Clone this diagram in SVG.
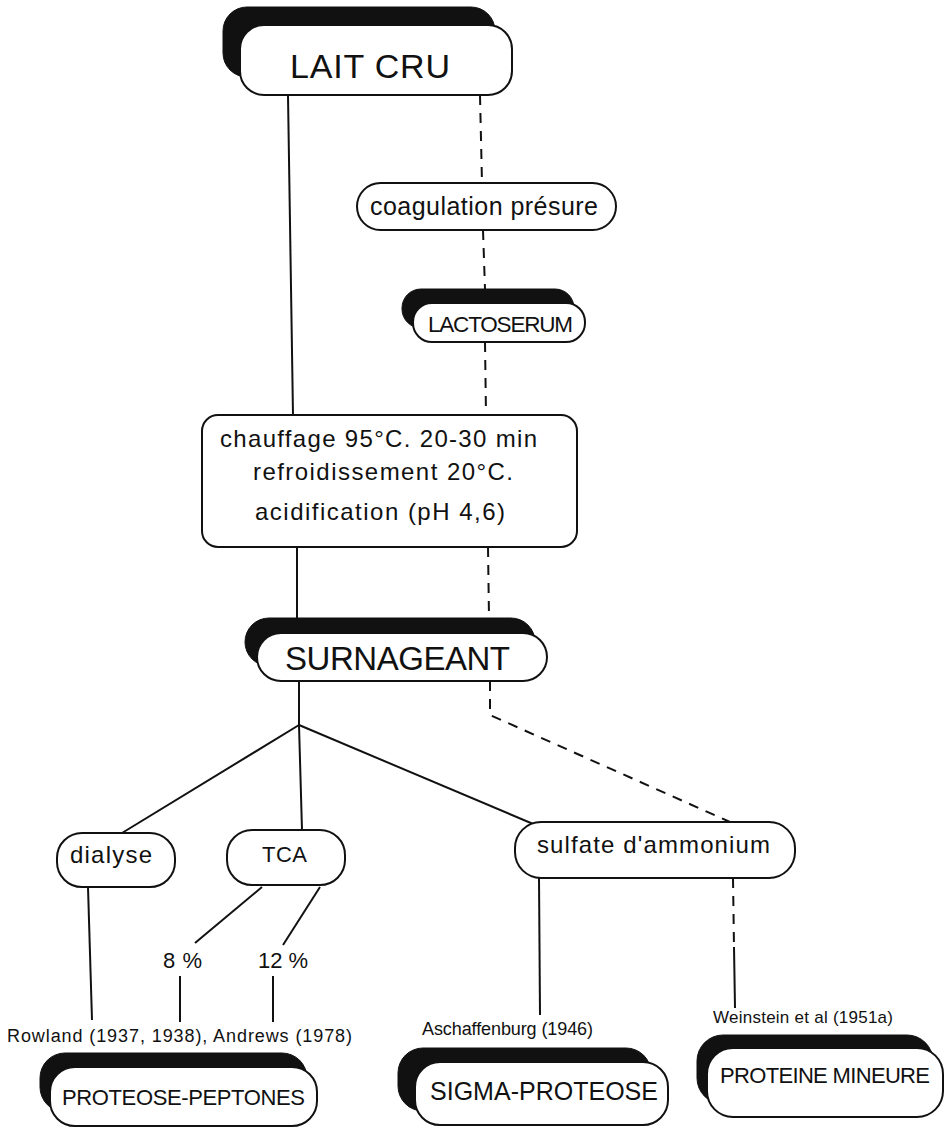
<svg xmlns="http://www.w3.org/2000/svg" width="945" height="1128" viewBox="0 0 945 1128">
<style>
.bg{fill:#fff}
.ln{fill:none;stroke:#111;stroke-width:2}
.ds{fill:none;stroke:#111;stroke-width:2;stroke-dasharray:10 8}
.sh{fill:#111;stroke:#111;stroke-width:1}
.bx{fill:#fff;stroke:#111;stroke-width:2}
text{font-family:"Liberation Sans","Noto Sans",sans-serif;fill:#111}
</style>
<rect class="bg" x="0" y="0" width="945" height="1128"/>
<g id="connectors">
<path class="ln" d="M288,95 L293,415"/>
<path class="ln" d="M297,547 L297,618"/>
<path class="ln" d="M299,681 L299,725"/>
<path class="ln" d="M299,725 L122,833"/>
<path class="ln" d="M299,725 L302,830"/>
<path class="ln" d="M299,725 L538,826"/>
<path class="ln" d="M262,887 L195,943"/>
<path class="ln" d="M320,887 L283,945"/>
<path class="ln" d="M180,976 L180,1022"/>
<path class="ln" d="M273,976 L273,1022"/>
<path class="ln" d="M88,887 L92,1020"/>
<path class="ln" d="M539,878 L540,1015"/>
<path class="ds" d="M480,95 L482,183"/>
<path class="ds" d="M483,230 L485,289"/>
<path class="ds" d="M485,342 L486,415"/>
<path class="ds" d="M488,547 L489,618"/>
<path class="ds" d="M490,681 L490,715 L730,822"/>
<path class="ds" d="M733,878 L734,947"/>
<path class="ln" d="M734,947 L735,1008"/>
</g>
<g id="lait-cru">
<rect class="sh" x="223" y="7" width="272" height="70" rx="24"/>
<rect class="bx" x="240" y="25" width="272" height="70" rx="24"/>
<text x="290" y="78" font-size="34" textLength="160">LAIT CRU</text>
</g>
<g id="coagulation">
<rect class="bx" x="357" y="183" width="259" height="47" rx="23.5"/>
<text x="370" y="215" font-size="25" textLength="228">coagulation présure</text>
</g>
<g id="lactoserum">
<rect class="sh" x="402" y="289" width="172" height="39" rx="19"/>
<rect class="bx" x="413" y="303" width="172" height="39" rx="19"/>
<text x="428" y="332" font-size="22.5" textLength="145">LACTOSERUM</text>
</g>
<g id="chauffage">
<rect class="bx" x="202" y="415" width="375" height="132" rx="16"/>
<text x="220" y="447" font-size="24" textLength="317">chauffage 95°C. 20-30 min</text>
<text x="253" y="480" font-size="24" textLength="260">refroidissement 20°C.</text>
<text x="255" y="520" font-size="24" textLength="250">acidification (pH 4,6)</text>
</g>
<g id="surnageant">
<rect class="sh" x="245" y="618" width="290" height="48" rx="24"/>
<rect class="bx" x="257" y="633" width="290" height="48" rx="24"/>
<text x="285" y="670" font-size="33" textLength="225">SURNAGEANT</text>
</g>
<g id="dialyse">
<rect class="bx" x="57" y="833" width="118" height="54" rx="25"/>
<text x="70" y="863" font-size="24" textLength="82">dialyse</text>
</g>
<g id="tca">
<rect class="bx" x="227" y="830" width="118" height="55" rx="25"/>
<text x="262" y="862" font-size="22" textLength="45">TCA</text>
</g>
<g id="sulfate">
<rect class="bx" x="515" y="822" width="280" height="56" rx="26"/>
<text x="537" y="853" font-size="24" textLength="233">sulfate d'ammonium</text>
</g>
<g id="labels">
<text x="163" y="968" font-size="22" textLength="39">8 %</text>
<text x="258" y="968" font-size="22" textLength="50">12 %</text>
<text x="7" y="1042" font-size="18" textLength="345">Rowland (1937, 1938), Andrews (1978)</text>
<text x="422" y="1035" font-size="18" textLength="171">Aschaffenburg (1946)</text>
<text x="713" y="1023" font-size="17" textLength="180">Weinstein et al (1951a)</text>
</g>
<g id="proteose-peptones">
<rect class="sh" x="40" y="1053" width="267" height="59" rx="25"/>
<rect class="bx" x="50" y="1067" width="267" height="59" rx="25"/>
<text x="62" y="1105" font-size="22" textLength="243">PROTEOSE-PEPTONES</text>
</g>
<g id="sigma-proteose">
<rect class="sh" x="398" y="1048" width="253" height="63" rx="25"/>
<rect class="bx" x="415" y="1062" width="253" height="63" rx="25"/>
<text x="430" y="1100" font-size="25" textLength="228">SIGMA-PROTEOSE</text>
</g>
<g id="proteine-mineure">
<rect class="sh" x="697" y="1035" width="236" height="69" rx="26"/>
<rect class="bx" x="707" y="1048" width="236" height="69" rx="26"/>
<text x="720" y="1083" font-size="22" textLength="210">PROTEINE MINEURE</text>
</g>
</svg>
